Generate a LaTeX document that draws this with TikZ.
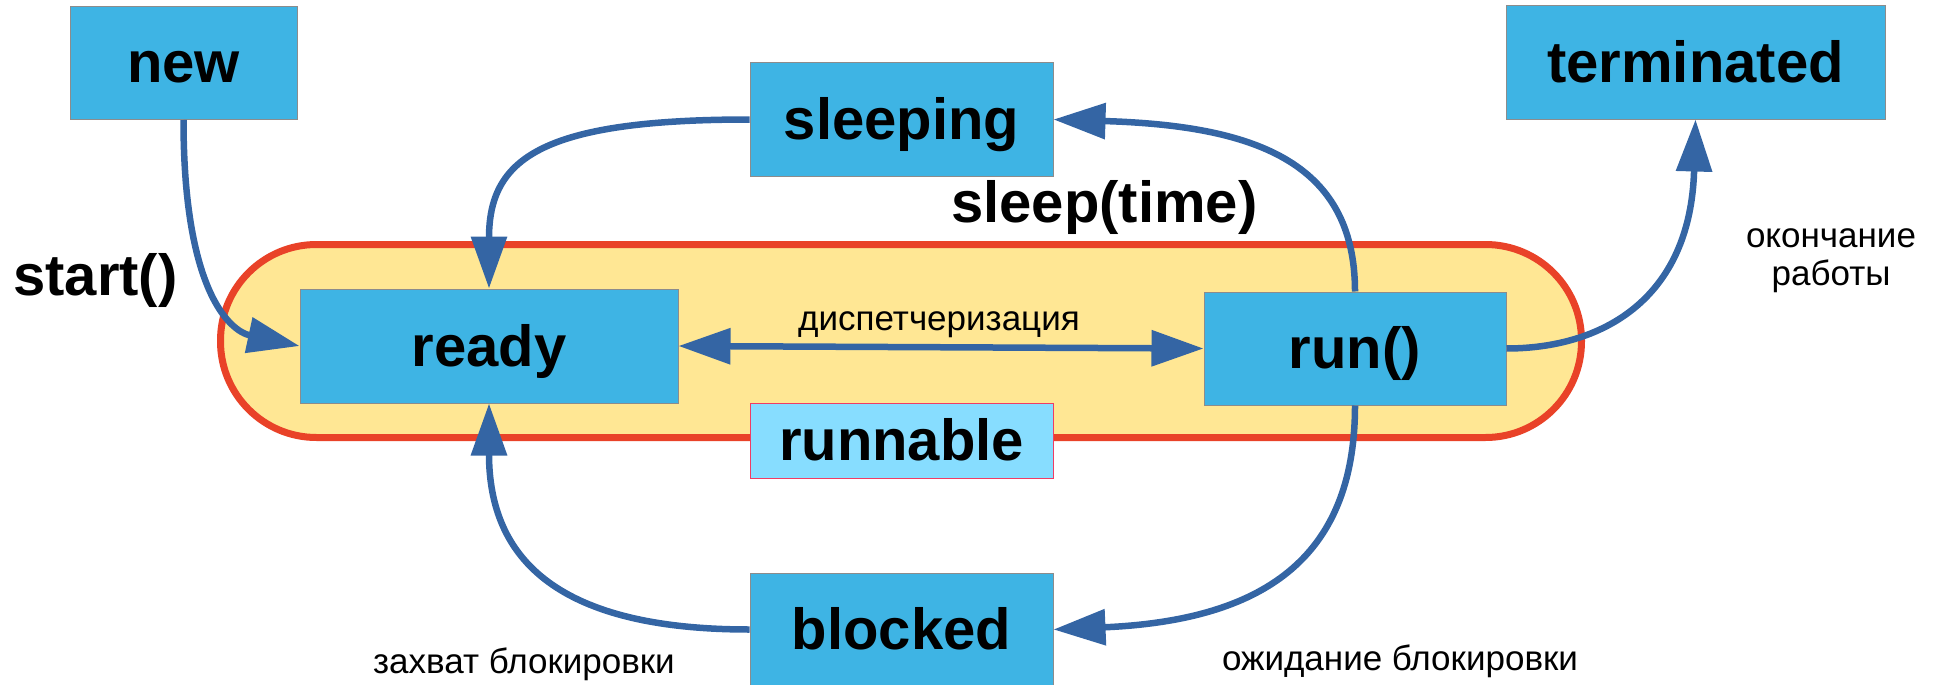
\documentclass[tikz,border=0pt]{standalone}
\usepackage{fontspec}
\setmainfont{Liberation Sans}
\usetikzlibrary{arrows.meta}
\definecolor{boxblue}{RGB}{62,180,228}
\definecolor{arrowblue}{RGB}{52,101,164}
\definecolor{stadfill}{RGB}{255,231,148}
\definecolor{stadred}{RGB}{233,66,40}
\definecolor{runfill}{RGB}{135,221,255}
\definecolor{runborder}{RGB}{240,60,100}
\definecolor{boxborder}{RGB}{140,140,140}
\tikzset{
  state/.style={draw=boxborder, line width=1pt, fill=boxblue, inner sep=0pt,
    minimum height=113pt, text height=40pt, text depth=0pt,
    font=\fontsize{58}{60}\selectfont\bfseries},
  group/.style={draw=runborder, line width=1pt, fill=runfill, inner sep=0pt,
    minimum height=75pt, text height=40pt, text depth=0pt,
    font=\fontsize{58}{60}\selectfont\bfseries},
  conn/.style={draw=arrowblue, line width=6.5pt,
    -{Triangle[length=52pt,width=35pt]}},
  biconn/.style={draw=arrowblue, line width=6.5pt,
    {Triangle[length=52pt,width=35pt]}-{Triangle[length=52pt,width=35pt]}},
  biglbl/.style={inner sep=0pt, font=\fontsize{58}{60}\selectfont\bfseries},
  smalllbl/.style={inner sep=0pt, font=\fontsize{35}{38}\selectfont},
}
\begin{document}
\begin{tikzpicture}[x=1pt,y=-1pt]
\useasboundingbox (0,0) rectangle (1939,685);
% runnable area
\draw[draw=stadred, fill=stadfill, line width=7pt, rounded corners=96pt]
  (220.5,244.5) rectangle (1581.5,437.5);
% states
\node[state, minimum width=227pt] (new) at (183.5,63) {new};
\node[state, minimum width=303pt] (sleeping) at (901.5,119.5) {sleeping};
\node[state, minimum width=379pt] (terminated) at (1695.5,62.5) {terminated};
\node[state, minimum width=378pt, minimum height=114pt] (ready) at (489,346) {ready};
\node[state, minimum width=302pt] (run) at (1355,348.5) {run()};
\node[group, minimum width=303pt] (runnable) at (901.5,440.5) {runnable};
\node[state, minimum width=303pt, minimum height=112pt] (blocked) at (901.5,629.5) {blocked};
% connectors
\draw[conn] (new.south) .. controls +(0,170) and +(-70,-15) .. (ready.west);
\draw[conn] (sleeping.west) .. controls +(-210,0) and +(0,-129) .. (ready.north);
\draw[conn] (run.north) .. controls +(0,-132) and +(197,6) .. (sleeping.east);
\draw[conn] (run.east) .. controls +(94,0) and +(-5,181) .. (terminated.south);
\draw[conn] (run.south) .. controls +(0,155) and +(207,-9) .. (blocked.east);
\draw[conn] (blocked.west) .. controls +(-190,0) and +(0,157) .. (ready.south);
\draw[biconn] (ready.east) -- (run.west);
% labels
\node[biglbl, anchor=base west] (lstart) at (13,295) {start()};
\node[biglbl, anchor=base west] (lsleep) at (951,222) {sleep(time)};
\node[smalllbl, anchor=base] (ldisp) at (939,330) {диспетчеризация};
\node[smalllbl, anchor=base, align=center] (lend) at (1831,285) {окончание\\работы};
\node[smalllbl, anchor=base] (lacq) at (524,673) {захват блокировки};
\node[smalllbl, anchor=base] (lwait) at (1400,670) {ожидание блокировки};
\end{tikzpicture}
\end{document}
